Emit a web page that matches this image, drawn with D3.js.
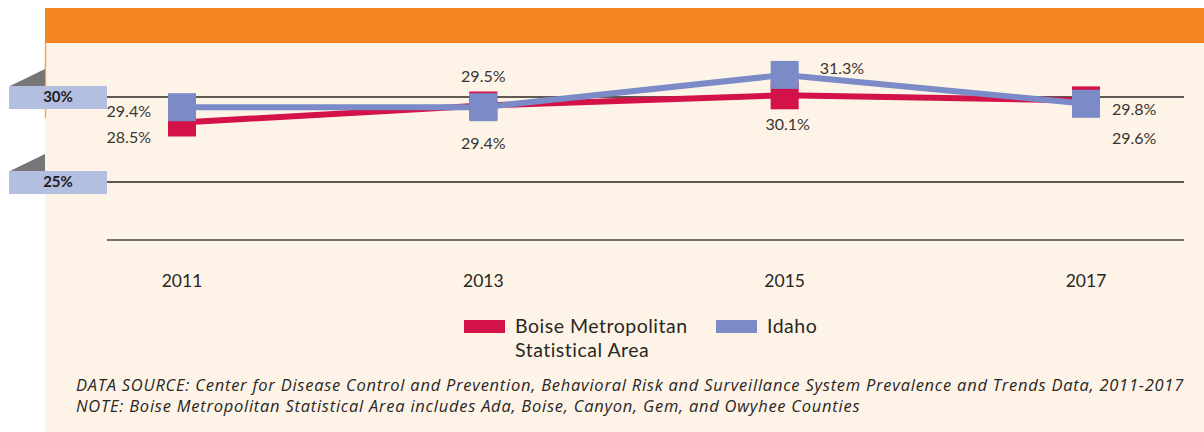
<!DOCTYPE html>
<html>
<head>
<meta charset="utf-8">
<script src="https://cdn.jsdelivr.net/npm/d3@7"></script>
<style>
  html, body { margin: 0; padding: 0; background: #ffffff; }
  svg { display: block; font-family: "Lato", "Open Sans", sans-serif; }
</style>
</head>
<body>
<script>
// Survey years and prevalence (%) for each area
const years = [2011, 2013, 2015, 2017];
const boiseValues = [28.5, 29.5, 30.1, 29.8];
const idahoValues = [29.4, 29.4, 31.3, 29.6];
const gridTicks = [25, 30];
const seriesNames = ["Boise Metropolitan", "Idaho"];
const sourceLines = [
  "DATA SOURCE: Center for Disease Control and Prevention, Behavioral Risk and Surveillance System Prevalence and Trends Data, 2011-2017",
  "NOTE: Boise Metropolitan Statistical Area includes Ada, Boise, Canyon, Gem, and Owyhee Counties"
];

// Value-label placement relative to each marker: [dx, dy, anchor]
const boiseLabelPlacement = [[-31, 15, "end"], [0, -29, "middle"], [3, 29, "middle"], [26, 9, "start"]];
const idahoLabelPlacement = [[-31, 4, "end"], [0, 36, "middle"], [35, -7, "start"], [26, 34, "start"]];

const W = 1204, H = 432;
const RED = "#d3124a", BLUE = "#7a8bc7", TEXT = "#2a2624";

const svg = d3.select("body").append("svg").attr("width", W).attr("height", H);

// Panel: orange header band and cream body
svg.append("rect").attr("x", 45).attr("y", 8).attr("width", W - 45).attr("height", 35).attr("fill", "#f3841f");
svg.append("rect").attr("x", 45).attr("y", 43).attr("width", W - 45).attr("height", H - 43).attr("fill", "#fdf4e7");
svg.append("line").attr("x1", 45.5).attr("x2", 45.5).attr("y1", 43).attr("y2", 118)
  .attr("stroke", "#f3a55a").attr("stroke-width", 1.5);

const x = d3.scalePoint().domain(years).range([182, 1086]);
const y = d3.scaleLinear().domain([25, 30]).range([182, 97]);
const plotLeft = 107, plotRight = 1184, plotBottom = 240;

// Horizontal reference lines with tab labels
const grid = svg.append("g").selectAll("g").data(gridTicks).join("g")
  .attr("transform", d => `translate(0,${y(d)})`);
grid.append("line").attr("x1", plotLeft).attr("x2", plotRight)
  .attr("stroke", "#2b2522").attr("stroke-width", 1.6);
grid.append("path").attr("d", "M10,-11 L45,-28 L45,-11 Z").attr("fill", "#767676");
grid.append("rect").attr("x", 9).attr("y", -11).attr("width", 98).attr("height", 23).attr("fill", "#b2bfe0");
grid.append("text").attr("x", 58).attr("y", 0).attr("dy", "0.36em")
  .attr("text-anchor", "middle").attr("font-size", 15).attr("font-weight", 700)
  .attr("fill", "#1f1b1a").text(d => d3.format("d")(d) + "%");

// Baseline
svg.append("line").attr("x1", plotLeft).attr("x2", plotRight)
  .attr("y1", plotBottom).attr("y2", plotBottom)
  .attr("stroke", "#4a4542").attr("stroke-width", 1.6);

// Year labels
svg.append("g").selectAll("text").data(years).join("text")
  .attr("x", d => x(d)).attr("y", 287)
  .attr("text-anchor", "middle").attr("font-size", 17.5).attr("fill", TEXT)
  .text(d => d);

const line = d3.line().x((d, i) => x(years[i])).y(d => y(d));
const fmt = d => d3.format(".1f")(d) + "%";

function drawSeries(values, color) {
  const g = svg.append("g");
  g.append("path").datum(values).attr("d", line)
    .attr("fill", "none").attr("stroke", color).attr("stroke-width", 6)
    .attr("stroke-linejoin", "round");
  g.selectAll("rect").data(values).join("rect")
    .attr("x", (d, i) => x(years[i]) - 14).attr("y", d => y(d) - 14)
    .attr("width", 28).attr("height", 28).attr("fill", color);
  return g;
}

function drawLabels(values, placement) {
  svg.append("g").selectAll("text").data(values).join("text")
    .attr("x", (d, i) => x(years[i]) + placement[i][0])
    .attr("y", (d, i) => y(d) + placement[i][1])
    .attr("dy", "0.36em")
    .attr("text-anchor", (d, i) => placement[i][2])
    .attr("font-size", 16).attr("fill", "#3a3532")
    .text(fmt);
}

drawSeries(boiseValues, RED);
drawSeries(idahoValues, BLUE);
drawLabels(boiseValues, boiseLabelPlacement);
drawLabels(idahoValues, idahoLabelPlacement);

// Legend
const legend = svg.append("g").attr("font-size", 19.5).attr("letter-spacing", "0.5px").attr("fill", TEXT);
legend.append("rect").attr("x", 464).attr("y", 320).attr("width", 41).attr("height", 13).attr("fill", RED);
legend.append("text").attr("x", 515).attr("y", 333).text(seriesNames[0]);
legend.append("text").attr("x", 515).attr("y", 357).text("Statistical Area");
legend.append("rect").attr("x", 716).attr("y", 320).attr("width", 41).attr("height", 13).attr("fill", BLUE);
legend.append("text").attr("x", 767).attr("y", 333).text(seriesNames[1]);

// Source notes
svg.append("g").selectAll("text").data(sourceLines).join("text")
  .attr("x", 76).attr("y", (d, i) => 391 + i * 21)
  .attr("font-family", "'Open Sans', sans-serif")
  .attr("font-size", 16.5).attr("letter-spacing", "0.75px")
  .attr("font-style", "italic").attr("fill", TEXT)
  .text(d => d);
</script>
</body>
</html>
